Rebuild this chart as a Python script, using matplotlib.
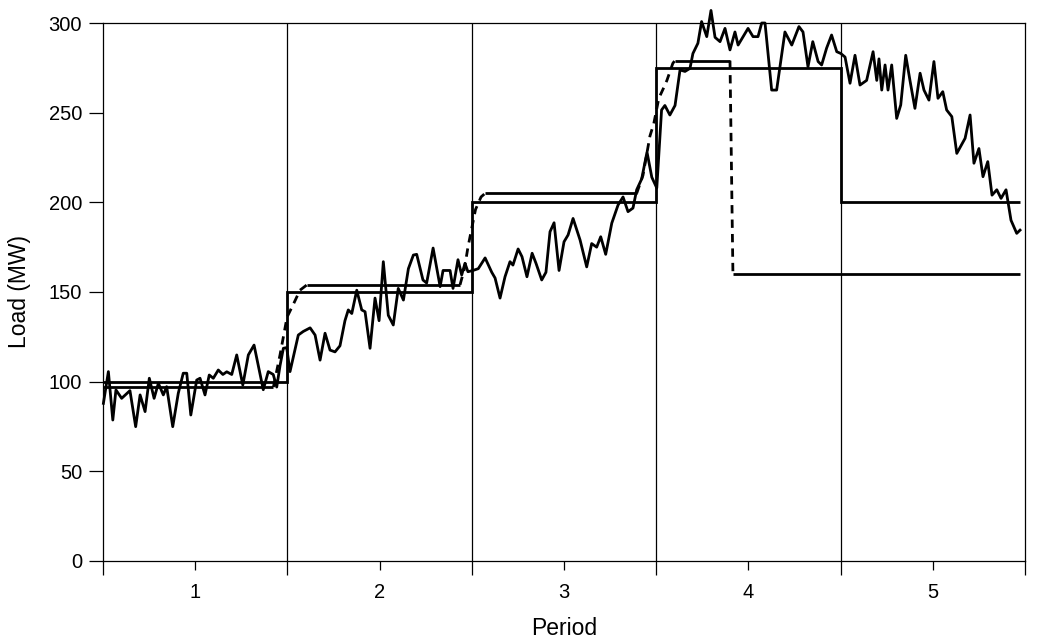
import matplotlib
matplotlib.use("Agg")
import matplotlib.pyplot as plt

plt.rcParams['font.family'] = ['Liberation Sans', 'DejaVu Sans']

# measured load, time in period units
load_t = [0.502, 0.529, 0.553, 0.570, 0.601, 0.646, 0.677, 0.701, 0.728, 0.751,
          0.777, 0.800, 0.827, 0.845, 0.878, 0.908, 0.935, 0.954, 0.976, 1.008,
          1.026, 1.053, 1.076, 1.098, 1.125, 1.150, 1.171, 1.198, 1.225, 1.258,
          1.288, 1.319, 1.369, 1.396, 1.423, 1.442, 1.460, 1.478, 1.496, 1.514,
          1.559, 1.586, 1.623, 1.650, 1.677, 1.704, 1.731, 1.758, 1.785, 1.812,
          1.830, 1.849, 1.876, 1.903, 1.921, 1.948, 1.975, 1.997, 2.020, 2.047,
          2.074, 2.101, 2.129, 2.156, 2.183, 2.201, 2.235, 2.255, 2.290, 2.328,
          2.344, 2.382, 2.398, 2.425, 2.445, 2.463, 2.479, 2.506, 2.535, 2.572,
          2.608, 2.626, 2.653, 2.680, 2.707, 2.723, 2.751, 2.772, 2.799, 2.827,
          2.848, 2.879, 2.902, 2.924, 2.946, 2.973, 3.000, 3.022, 3.049, 3.087,
          3.123, 3.150, 3.177, 3.199, 3.226, 3.259, 3.293, 3.320, 3.347, 3.374,
          3.394, 3.421, 3.450, 3.476, 3.503, 3.529, 3.547, 3.574, 3.602, 3.629,
          3.656, 3.683, 3.699, 3.726, 3.746, 3.774, 3.797, 3.819, 3.846, 3.873,
          3.900, 3.927, 3.944, 3.971, 3.998, 4.025, 4.052, 4.072, 4.090, 4.126,
          4.153, 4.198, 4.235, 4.274, 4.296, 4.323, 4.349, 4.378, 4.397, 4.424,
          4.451, 4.479, 4.501, 4.524, 4.551, 4.578, 4.605, 4.641, 4.676, 4.696,
          4.708, 4.723, 4.741, 4.757, 4.777, 4.804, 4.826, 4.853, 4.876, 4.903,
          4.931, 4.952, 4.979, 5.006, 5.028, 5.054, 5.075, 5.103, 5.130, 5.175,
          5.202, 5.223, 5.250, 5.272, 5.298, 5.321, 5.347, 5.370, 5.397, 5.424,
          5.455, 5.473]
load_mw = [87.9, 105.6, 78.6, 95.4, 90.7, 95.0, 74.9, 92.6, 83.3, 101.9,
           90.7, 99.1, 92.6, 97.2, 74.9, 93.5, 104.7, 104.7, 81.4, 100.9,
           101.9, 92.6, 103.7, 101.9, 106.5, 104.0, 105.5, 104.0, 114.9, 98.1,
           114.9, 120.4, 95.5, 105.6, 104.0, 97.0, 109.0, 118.6, 119.0, 105.6,
           126.0, 128.0, 130.0, 126.0, 112.0, 127.0, 117.6, 116.6, 120.0, 134.0,
           140.0, 138.0, 151.0, 140.0, 139.0, 118.6, 146.6, 134.0, 166.9, 137.0,
           131.6, 152.0, 145.5, 163.0, 170.6, 171.0, 156.7, 155.0, 174.5, 153.0,
           162.0, 162.0, 152.0, 168.0, 159.5, 166.0, 161.3, 162.0, 163.0, 169.0,
           161.0, 157.8, 146.6, 158.5, 166.9, 165.0, 174.0, 169.7, 158.5, 171.6,
           166.0, 156.7, 161.0, 183.6, 188.6, 162.0, 178.0, 181.8, 191.0, 179.0,
           164.0, 177.0, 175.0, 180.8, 171.0, 188.4, 198.5, 203.0, 194.8, 196.8,
           207.0, 213.0, 228.0, 214.0, 208.0, 251.5, 254.0, 248.7, 254.0, 273.8,
           273.0, 274.7, 283.0, 288.7, 300.8, 292.4, 307.0, 292.0, 289.6, 297.0,
           285.0, 295.0, 287.7, 292.4, 297.0, 292.4, 292.4, 300.0, 300.0, 262.6,
           262.6, 295.0, 287.7, 298.0, 295.0, 275.6, 289.6, 278.5, 276.6, 286.0,
           293.3, 284.0, 283.0, 281.0, 266.4, 282.0, 265.4, 268.0, 284.0, 268.0,
           280.0, 262.6, 276.6, 262.6, 276.6, 246.8, 254.3, 282.0, 268.0, 252.4,
           272.0, 262.6, 257.0, 278.5, 258.0, 261.7, 251.5, 247.8, 227.3, 235.7,
           248.7, 221.8, 230.0, 214.3, 222.7, 204.0, 207.0, 202.2, 207.0, 190.0,
           182.7, 184.5]

# schedule A (solid steps)
sched_a_edges = [0.5, 1.5, 2.5, 3.5, 4.5, 5.473]
sched_a_mw = [100, 150, 200, 275, 200]

# schedule B flat parts
sched_b_mw = [97, 154, 205, 279, 160]
sched_b_start = [0.5, 1.606, 2.572, 3.601, 3.916]
sched_b_end = [1.424, 2.436, 3.394, 3.900, 5.473]

# schedule B transitions (dashed)
ramp1_t = [1.424, 1.46, 1.498, 1.536, 1.568, 1.606]
ramp1_mw = [97, 115, 136, 144, 151, 154]
ramp2_t = [2.436, 2.46, 2.479, 2.52, 2.55, 2.572]
ramp2_mw = [154, 163, 175, 196, 203, 205]
ramp3_t = [3.394, 3.428, 3.466, 3.487, 3.514, 3.541, 3.558, 3.590, 3.601]
ramp3_mw = [205, 215, 237, 244, 258, 264, 268, 277.5, 279]
ramp4_t = [3.900, 3.916]
ramp4_mw = [279, 160]

periods = [1, 2, 3, 4, 5]
boundaries = [0.5, 1.5, 2.5, 3.5, 4.5, 5.5]

fig = plt.figure(figsize=(10.6, 6.39), dpi=100)
ax = fig.add_axes([0.0972, 0.1221, 0.8698, 0.8419])

lw = 2.0
ax.plot(load_t, load_mw, color='black', lw=lw, clip_on=False, zorder=3)
ax.stairs(sched_a_mw, sched_a_edges, baseline=None, color='black', lw=lw, zorder=4)
ax.hlines(sched_b_mw, sched_b_start, sched_b_end, color='black', lw=lw, zorder=4)
for rt, rm in [(ramp1_t, ramp1_mw), (ramp2_t, ramp2_mw), (ramp3_t, ramp3_mw), (ramp4_t, ramp4_mw)]:
    ax.plot(rt, rm, color='black', lw=lw, linestyle=(0, (3, 2.2)), zorder=4)

ax.set_xlim(0.5, 5.5)
ax.set_ylim(0, 300)

# period separators
for b in boundaries[1:-1]:
    ax.axvline(b, color='black', lw=0.9, zorder=1)

for s in ax.spines.values():
    s.set_linewidth(0.9)

ax.set_xticks(boundaries)
ax.set_xticklabels([])
ax.set_xticks(periods, minor=True)
ax.set_xticklabels([str(p) for p in periods], minor=True)
ax.tick_params(axis='x', which='major', direction='out', length=10, width=0.9)
ax.tick_params(axis='x', which='minor', direction='out', length=6.5, width=0.9,
               pad=9, labelsize=14.5)
ax.set_yticks(range(0, 301, 50))
ax.tick_params(axis='y', direction='out', length=10, width=0.9, pad=5, labelsize=14.5)

ax.set_xlabel('Period', fontsize=16.5, labelpad=11)
ax.set_ylabel('Load (MW)', fontsize=16.5, labelpad=13)

fig.savefig('out.png', dpi=100)
